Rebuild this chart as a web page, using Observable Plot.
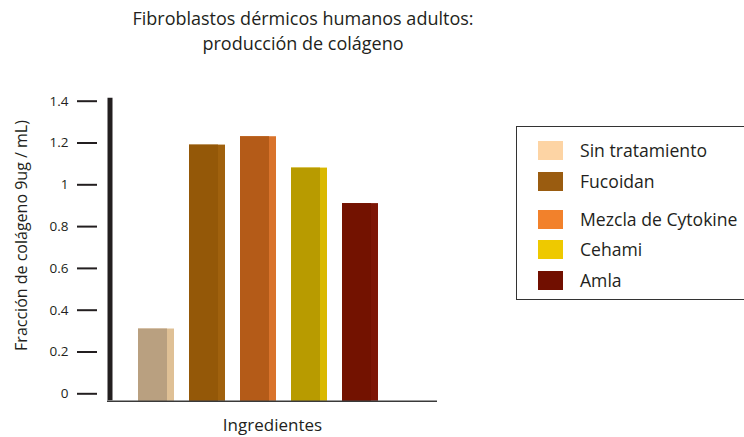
<!DOCTYPE html>
<html>
<head>
<meta charset="utf-8">
<script src="https://cdn.jsdelivr.net/npm/d3@7"></script>
<script src="https://cdn.jsdelivr.net/npm/@observablehq/plot@0.6"></script>
<style>
  html, body { margin: 0; padding: 0; background: #fff; }
  body { width: 744px; height: 437px; position: relative; overflow: hidden; font-family: "Open Sans", sans-serif; color: #231f20; }
  #title { position: absolute; left: 0; top: 6px; width: 606px; text-align: center; font-size: 18px; line-height: 25px; }
  #chart { position: absolute; left: 0; top: 0; }
  #legend { position: absolute; left: 516px; top: 126px; width: 240px; height: 174px; border: 1px solid #333; box-sizing: border-box; }
  .row { position: absolute; left: 21px; height: 20px; display: flex; align-items: center; }
  .sw { width: 25px; height: 19px; margin-right: 17px; }
  .lab { font-size: 17.6px; white-space: nowrap; }
</style>
</head>
<body>
<div id="title">Fibroblastos dérmicos humanos adultos:<br>producción de colágeno</div>
<div id="chart"></div>
<div id="legend"></div>
<script>
const categories = ["Sin tratamiento", "Fucoidan", "Mezcla de Cytokine", "Cehami", "Amla"];
const values = [0.31, 1.19, 1.23, 1.08, 0.91];
const frontColors = ["#b9a080", "#945808", "#b45b18", "#b89b00", "#731200"];
const sideColors = ["#dfc095", "#a0610d", "#d9732b", "#d9b800", "#7d1606"];
const legendColors = ["#fdd4a4", "#9a5c10", "#f2812b", "#eec900", "#710f00"];
const yTicks = [0, 0.2, 0.4, 0.6, 0.8, 1, 1.2, 1.4];
const yTickLabels = ["0", "0.2", "0.4", "0.6", "0.8", "1", "1.2", "1.4"];
const yLabel = "Fracción de colágeno 9ug / mL)";
const xLabel = "Ingredientes";
const legendRowTops = [13, 44, 82, 112, 143];

const data = categories.map((c, i) => ({c, v: values[i], front: frontColors[i], side: sideColors[i]}));

const chart = Plot.plot({
  width: 744,
  height: 437,
  marginTop: 100.7,
  marginBottom: 43.7,
  marginLeft: 107,
  marginRight: 307,
  style: {fontFamily: "Open Sans", color: "#231f20", background: "transparent"},
  x: {domain: categories, axis: null, paddingInner: 0.3, paddingOuter: 0.885, align: 0.343},
  y: {domain: [0, 1.4], axis: null},
  color: {type: "identity"},
  marks: [
    Plot.barY(data, {x: "c", y: "v", fill: "side", insetBottom: -7.5}),
    Plot.barY(data, {x: "c", y: "v", fill: "front", insetRight: 7, insetBottom: -7.5}),
    Plot.axisY({ticks: yTicks, tickFormat: (d) => yTickLabels[yTicks.indexOf(d)], tickSize: 20, tickPadding: 9, dx: -10, strokeWidth: 2, fontSize: 13.5, label: null, stroke: "#231f20"}),
    Plot.frame({anchor: "left", stroke: "#231f20", strokeWidth: 5, dx: 2.5, insetBottom: -4, insetTop: -1}),
    Plot.ruleY([0], {stroke: "#3a3a3a", strokeWidth: 1.5, dy: 7.5}),
    Plot.text([yLabel], {frameAnchor: "left", textAnchor: "middle", rotate: -90, dx: -86, dy: -12, fontSize: 16, fill: "#231f20"}),
    Plot.text([xLabel], {frameAnchor: "bottom", textAnchor: "middle", dy: 37, fontSize: 17, fill: "#231f20"})
  ]
});
document.getElementById("chart").appendChild(chart);

const legend = document.getElementById("legend");
categories.forEach((c, i) => {
  const row = document.createElement("div");
  row.className = "row";
  row.style.top = legendRowTops[i] + "px";
  const sw = document.createElement("div");
  sw.className = "sw";
  sw.style.background = legendColors[i];
  const lab = document.createElement("span");
  lab.className = "lab";
  lab.textContent = c;
  row.appendChild(sw);
  row.appendChild(lab);
  legend.appendChild(row);
});
</script>
</body>
</html>
